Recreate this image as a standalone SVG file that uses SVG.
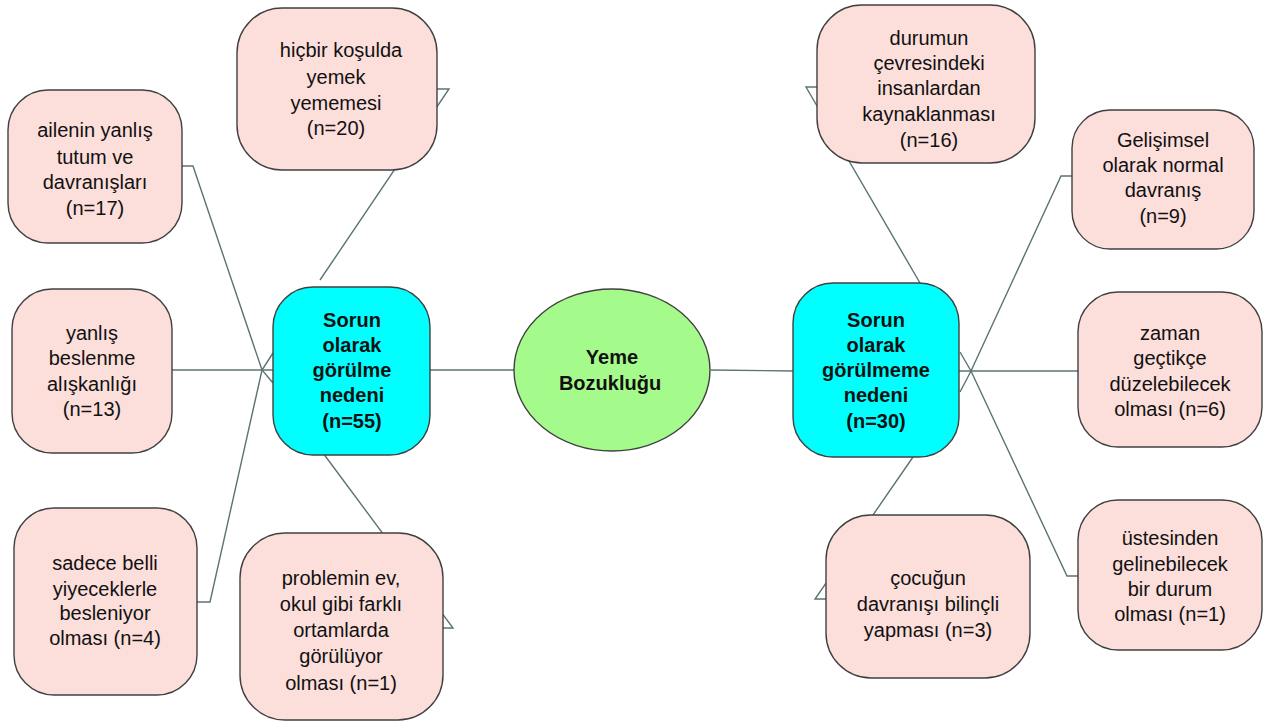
<svg xmlns="http://www.w3.org/2000/svg" width="1277" height="722" viewBox="0 0 1277 722">
<style>
.c{fill:none;stroke:#5b7373;stroke-width:1.4}
.p{fill:#fcdedb;stroke:#404040;stroke-width:1.4}
.s{fill:#00ffff;stroke:#404040;stroke-width:1.4}
.e{fill:#a5fa8c;stroke:#404040;stroke-width:1.4}
text{font-family:"Liberation Sans",Arial,sans-serif;font-size:20px;fill:#111;text-anchor:middle}
.b{font-weight:bold}
</style>
<rect width="1277" height="722" fill="#fff"/>
<g id="connectors">
<polyline class="c" points="182,166 193,166 262,370 273,383"/>
<polyline class="c" points="172,370 273,370"/>
<polyline class="c" points="197,602 210,602 262,370 273,353"/>
<polyline class="c" points="320,280 449,89 437,89"/>
<polyline class="c" points="323,453 453,628 442,628"/>
<line class="c" x1="430" y1="370" x2="514" y2="370"/>
<line class="c" x1="711" y1="370" x2="793" y2="371"/>
<polyline class="c" points="920,283 806,87 817,87"/>
<polyline class="c" points="913,457 815,599 826,599"/>
<polyline class="c" points="1072,176 1061,176 971,371 960,392"/>
<polyline class="c" points="959,371 1078,371"/>
<polyline class="c" points="1078,576 1067,576 971,371 960,352"/>
</g>
<g id="n-hicbir"><rect class="p" x="237" y="8" width="200" height="162" rx="45"/>
<text x="341" y="57">hiçbir koşulda</text><text x="336" y="84">yemek</text><text x="336" y="110">yememesi</text><text x="336" y="135">(n=20)</text></g>
<g id="n-ailenin"><rect class="p" x="8" y="90" width="174" height="153" rx="40"/>
<text x="95" y="137">ailenin yanlış</text><text x="95" y="164">tutum ve</text><text x="95" y="189">davranışları</text><text x="95" y="215">(n=17)</text></g>
<g id="n-yanlis"><rect class="p" x="12" y="289" width="160" height="164" rx="40"/>
<text x="92" y="340">yanlış</text><text x="92" y="365">beslenme</text><text x="92" y="391">alışkanlığı</text><text x="92" y="416">(n=13)</text></g>
<g id="n-sadece"><rect class="p" x="14" y="508" width="183" height="187" rx="40"/>
<text x="105" y="570">sadece belli</text><text x="105" y="596">yiyeceklerle</text><text x="105" y="620">besleniyor</text><text x="105" y="645">olması (n=4)</text></g>
<g id="n-problemin"><rect class="p" x="240" y="533" width="203" height="187" rx="45"/>
<text x="341" y="585">problemin ev,</text><text x="341" y="611">okul gibi farklı</text><text x="341" y="637">ortamlarda</text><text x="341" y="663">görülüyor</text><text x="341" y="690">olması (n=1)</text></g>
<g id="n-sorun55"><rect class="s" x="273" y="287" width="157" height="168" rx="40"/>
<text class="b" x="352" y="327">Sorun</text><text class="b" x="352" y="352">olarak</text><text class="b" x="352" y="377">görülme</text><text class="b" x="352" y="402">nedeni</text><text class="b" x="352" y="428">(n=55)</text></g>
<g id="n-yeme"><ellipse class="e" cx="612" cy="370" rx="98" ry="81"/>
<text class="b" x="612" y="364">Yeme</text><text class="b" x="610" y="390">Bozukluğu</text></g>
<g id="n-sorun30"><rect class="s" x="793" y="283" width="166" height="174" rx="40"/>
<text class="b" x="876" y="327">Sorun</text><text class="b" x="876" y="352">olarak</text><text class="b" x="876" y="377">görülmeme</text><text class="b" x="876" y="402">nedeni</text><text class="b" x="876" y="428">(n=30)</text></g>
<g id="n-durumun"><rect class="p" x="817" y="5" width="218" height="158" rx="45"/>
<text x="929" y="45">durumun</text><text x="929" y="70">çevresindeki</text><text x="929" y="95">insanlardan</text><text x="929" y="121">kaynaklanması</text><text x="929" y="147">(n=16)</text></g>
<g id="n-gelisimsel"><rect class="p" x="1072" y="110" width="182" height="139" rx="38"/>
<text x="1163" y="147">Gelişimsel</text><text x="1163" y="172">olarak normal</text><text x="1163" y="197">davranış</text><text x="1163" y="223">(n=9)</text></g>
<g id="n-zaman"><rect class="p" x="1078" y="292" width="184" height="155" rx="40"/>
<text x="1170" y="340">zaman</text><text x="1170" y="365">geçtikçe</text><text x="1170" y="391">düzelebilecek</text><text x="1170" y="416">olması (n=6)</text></g>
<g id="n-ustesinden"><rect class="p" x="1078" y="500" width="184" height="150" rx="40"/>
<text x="1170" y="545">üstesinden</text><text x="1170" y="571">gelinebilecek</text><text x="1170" y="596">bir durum</text><text x="1170" y="621">olması (n=1)</text></g>
<g id="n-cocugun"><rect class="p" x="826" y="515" width="204" height="163" rx="45"/>
<text x="928" y="585">çocuğun</text><text x="928" y="611">davranışı bilinçli</text><text x="928" y="637">yapması (n=3)</text></g>
</svg>
